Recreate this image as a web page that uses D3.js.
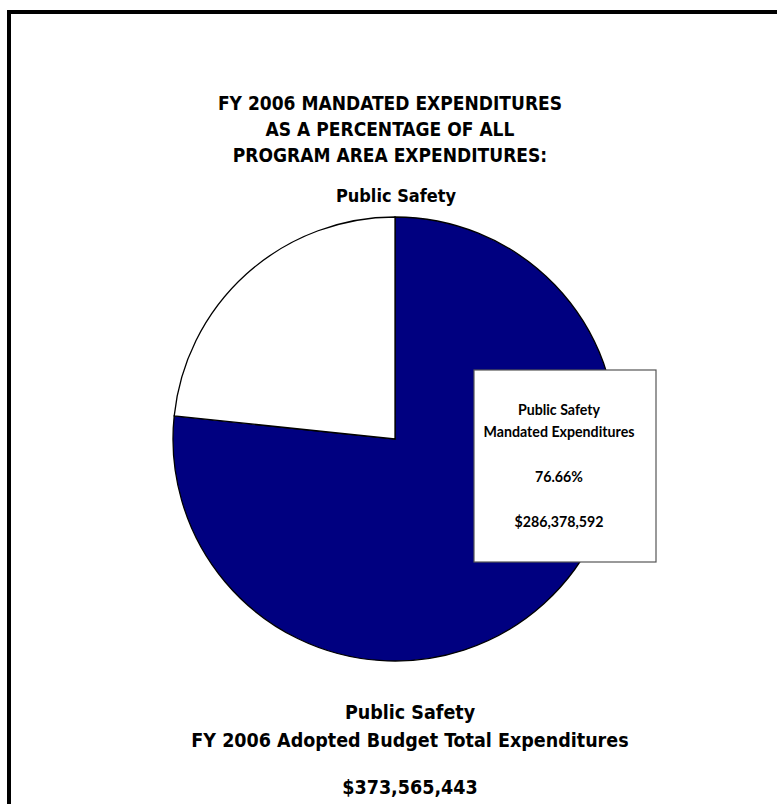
<!DOCTYPE html>
<html>
<head>
<meta charset="utf-8">
<script src="https://cdn.jsdelivr.net/npm/d3@7"></script>
<style>
  html, body { margin: 0; padding: 0; background: #fff; }
  svg { display: block; }
</style>
</head>
<body>
<svg id="chart" width="777" height="804"></svg>
<script>
const titleLines = ["FY 2006 MANDATED EXPENDITURES", "AS A PERCENTAGE OF ALL", "PROGRAM AREA EXPENDITURES:"];
const subtitle = "Public Safety";
const categories = ["Mandated", "Non-Mandated"];
const values = [76.66, 23.34];
const colors = ["#000080", "#ffffff"];
const boxLines = ["Public Safety", "Mandated Expenditures", "76.66%", "$286,378,592"];
const footerLines = ["Public Safety", "FY 2006 Adopted Budget Total Expenditures", "$373,565,443"];

const svg = d3.select("#chart");
const titleFont = "'DejaVu Sans Condensed', 'DejaVu Sans', sans-serif";
const boxFont = "Lato, 'Open Sans', sans-serif";

// outer frame
svg.append("rect").attr("x", 9).attr("y", 12).attr("width", 780).attr("height", 820)
  .attr("fill", "none").attr("stroke", "#000").attr("stroke-width", 4);

// title
const titleY = [110, 136, 162];
svg.append("g").selectAll("text").data(titleLines).join("text")
  .attr("x", 390).attr("y", (d, i) => titleY[i])
  .attr("text-anchor", "middle").attr("font-family", titleFont)
  .attr("font-weight", "bold").attr("font-size", 19).attr("fill", "#000")
  .text(d => d);

svg.append("text").attr("x", 396).attr("y", 202).attr("text-anchor", "middle")
  .attr("font-family", titleFont).attr("font-weight", "bold").attr("font-size", 18)
  .text(subtitle);

// pie
const cx = 395, cy = 439, r = 222;
const pie = d3.pie().sort(null).value(d => d.v);
const arc = d3.arc().innerRadius(0).outerRadius(r);
const data = categories.map((c, i) => ({c, v: values[i], col: colors[i]}));
svg.append("g").attr("transform", `translate(${cx},${cy})`)
  .selectAll("path").data(pie(data)).join("path")
  .attr("d", arc).attr("fill", d => d.data.col)
  .attr("stroke", "#000").attr("stroke-width", 1.3).attr("stroke-linejoin", "miter");

// label box
const bx = 474, by = 370, bw = 182, bh = 192;
svg.append("rect").attr("x", bx).attr("y", by).attr("width", bw).attr("height", bh)
  .attr("fill", "#fff").attr("stroke", "#555").attr("stroke-width", 1.2);
const boxY = [415, 437, 482, 527];
svg.append("g").selectAll("text").data(boxLines).join("text")
  .attr("x", 559).attr("y", (d, i) => boxY[i])
  .attr("text-anchor", "middle").attr("font-family", boxFont)
  .attr("font-weight", "bold").attr("font-size", 14.2).attr("fill", "#000")
  .text(d => d);

// footer
const footY = [719, 747, 794];
svg.append("g").selectAll("text").data(footerLines).join("text")
  .attr("x", 410).attr("y", (d, i) => footY[i])
  .attr("text-anchor", "middle").attr("font-family", titleFont)
  .attr("font-weight", "bold").attr("font-size", 19.5).attr("fill", "#000")
  .text(d => d);
</script>
</body>
</html>
